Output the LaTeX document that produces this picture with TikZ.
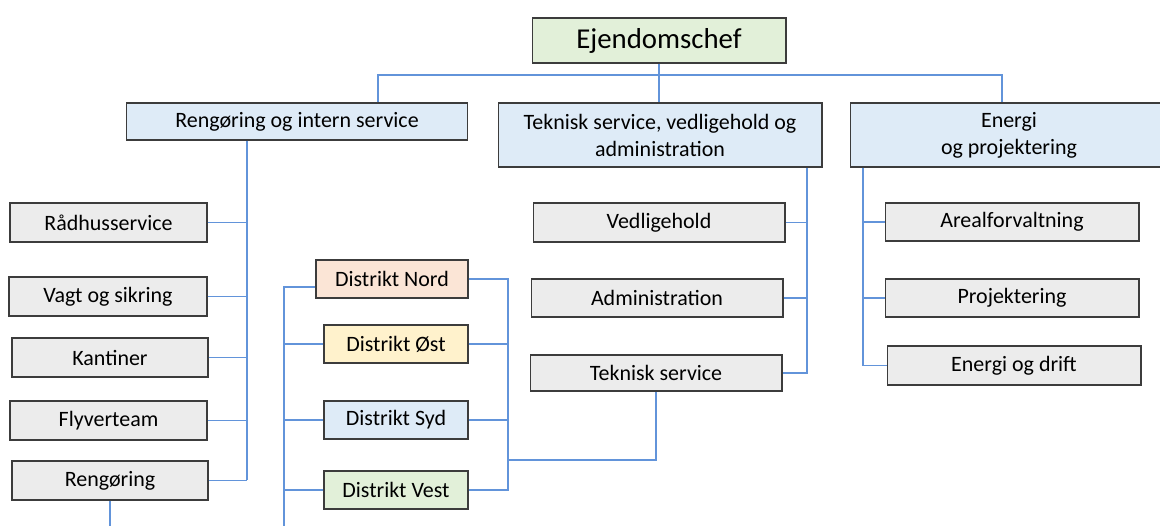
\documentclass[tikz,border=0pt]{standalone}
\usepackage{fontspec}
\setmainfont{Carlito}
\usepackage{tikz}
\usetikzlibrary{positioning}
\definecolor{chefgreen}{RGB}{226, 240, 217}
\definecolor{unitblue}{RGB}{222, 235, 247}
\definecolor{leafgray}{RGB}{236, 236, 236}
\definecolor{nordpeach}{RGB}{251, 229, 214}
\definecolor{ostyellow}{RGB}{255, 242, 204}
\definecolor{linkblue}{RGB}{98, 148, 218}
\definecolor{edgegray}{RGB}{60, 60, 60}

\begin{document}
\begin{tikzpicture}[x=0.02cm, y=-0.02cm,
    box/.style={draw=edgegray, line width=0.6pt, inner sep=1pt, align=center, font=\fontsize{12.5}{15.4}\selectfont},
    leaf/.style={box, fill=leafgray, minimum height=0.78cm},
    unit/.style={box, fill=unitblue},
    link/.style={draw=linkblue, line width=0.6pt}]
            \useasboundingbox (0,0) rectangle (1160,526);

            % Top
            \node[box, fill=chefgreen, minimum width=5.08cm, minimum height=0.9cm, font=\fontsize{16.4}{19}\selectfont] (chef) at (659,40.5) {Ejendomschef};

            % Units
            \node[unit, minimum width=6.84cm, minimum height=0.74cm] (reng) at (297,121.5) {Rengøring og intern service};
            \node[unit, minimum width=6.48cm, minimum height=1.28cm] (tek) at (660,135) {Teknisk service, vedligehold og\\administration};
            \node[unit, minimum width=6.36cm, minimum height=1.28cm] (energi) at (1009,135) {Energi\\og projektering};

            % Rengøring og intern service
            \node[leaf, minimum width=3.94cm] (rad) at (108.5,222.5) {Rådhusservice};
            \node[leaf, minimum width=3.96cm] (vagt) at (108,296.5) {Vagt og sikring};
            \node[leaf, minimum width=3.92cm] (kant) at (110,357.5) {Kantiner};
            \node[leaf, minimum width=3.94cm] (flyv) at (108.5,420.5) {Flyverteam};
            \node[leaf, minimum width=3.92cm] (rengo) at (110,480.5) {Rengøring};

            % Distrikter
            \node[box, fill=nordpeach, minimum width=3.04cm, minimum height=0.76cm] (nord) at (392,279) {Distrikt Nord};
            \node[box, fill=ostyellow, minimum width=2.88cm, minimum height=0.76cm] (ost) at (396,344) {Distrikt Øst};
            \node[box, fill=unitblue, minimum width=2.88cm, minimum height=0.76cm] (syd) at (396,420) {Distrikt Syd};
            \node[box, fill=chefgreen, minimum width=2.88cm, minimum height=0.76cm] (vest) at (396,490) {Distrikt Vest};

            % Teknisk service
            \node[leaf, minimum width=5.04cm] (vedl) at (659,222.5) {Vedligehold};
            \node[leaf, minimum width=5.04cm, minimum height=0.76cm] (adm) at (657,298) {Administration};
            \node[leaf, minimum width=5.04cm, minimum height=0.72cm] (teks) at (656,373) {Teknisk service};

            % Energi
            \node[leaf, minimum width=5.08cm, minimum height=0.76cm] (areal) at (1012,222) {Arealforvaltning};
            \node[leaf, minimum width=5.08cm, minimum height=0.76cm] (proj) at (1012,298) {Projektering};
            \node[leaf, minimum width=5.08cm] (edrift) at (1014,365.5) {Energi og drift};

            % Lines
            \coordinate (topl) at (378,75);
            \coordinate (topr) at (1002,75);
            \coordinate (rspine) at (247,480);
            \coordinate (rend) at (110,526);
            \coordinate (dl) at (284,526);
            \coordinate (dr) at (508,0);
            \coordinate (dj) at (508,460);
            \coordinate (tspine) at (807,0);
            \coordinate (espine) at (863,0);

            \draw[link] (chef.south) -- (chef.south |- tek.north);
            \draw[link] (reng.north -| topl) -- (topl) -- (topr) -- (topr |- energi.north);

            \draw[link] (reng.south -| rspine) -- (rspine);
            \foreach \n in {rad, vagt, kant, flyv, rengo}
                \draw[link] (\n.east) -- (\n.east -| rspine);
            \draw[link] (rengo.south) -- (rengo.south |- rend);

            \draw[link] ([yshift=-0.16cm]nord.west) -| (dl);
            \foreach \n in {ost, syd, vest}
                \draw[link] (\n.west) -- (\n.west -| dl);

            \draw[link] (nord.east) -- (nord.east -| dr) -- (vest.east -| dr) -- (vest.east);
            \foreach \n in {ost, syd}
                \draw[link] (\n.east) -- (\n.east -| dr);
            \draw[link] (dj) -| (teks.south);

            \draw[link] (tek.south -| tspine) -- (teks.east -| tspine) -- (teks.east);
            \foreach \n in {vedl, adm}
                \draw[link] (\n.east) -- (\n.east -| tspine);

            \draw[link] (energi.south -| espine) -- (edrift.west -| espine) -- (edrift.west);
            \foreach \n in {areal, proj}
                \draw[link] (\n.west) -- (\n.west -| espine);
        \end{tikzpicture}
\end{document}
